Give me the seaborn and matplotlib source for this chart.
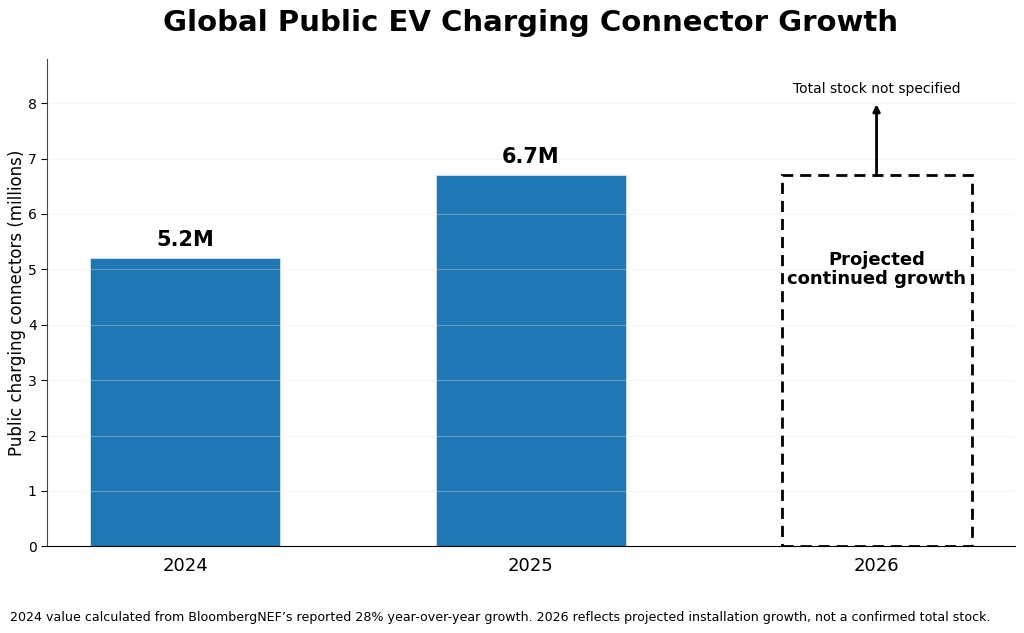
import pandas as pd
import matplotlib
matplotlib.use("Agg")
import matplotlib.pyplot as plt
import seaborn as sns
from matplotlib.patches import Rectangle

# Data
years = ["2024", "2025", "2026"]
connectors = [5.2, 6.7, 0.0]          # 2026 total stock not confirmed
bar_labels = ["5.2M", "6.7M", ""]
projected_height = 6.7                 # outline placeholder for 2026

df = pd.DataFrame({"year": years, "connectors": connectors})

sns.set_style("white")
plt.rcParams["font.family"] = ["DejaVu Sans"]
plt.rcParams["text.color"] = "black"
plt.rcParams["axes.labelcolor"] = "black"
plt.rcParams["xtick.color"] = "black"
plt.rcParams["ytick.color"] = "black"

fig, ax = plt.subplots(figsize=(10.24, 6.33), dpi=100)

sns.barplot(data=df, x="year", y="connectors", color="#1f77b4", saturation=1,
            width=0.55, edgecolor="#d0e4f4", linewidth=0.6, ax=ax, zorder=2)

# bar value labels
for i, (v, lab) in enumerate(zip(connectors, bar_labels)):
    if lab:
        ax.text(i, v + 0.15, lab, ha="center", va="bottom",
                fontsize=15, fontweight="bold")

# dashed projected box for 2026
ax.add_patch(Rectangle((2 - 0.275, 0), 0.55, projected_height, fill=False,
                       edgecolor="black", linestyle=(0, (4, 2.5)), linewidth=2,
                       zorder=3))
ax.text(2, 5.0, "Projected\ncontinued growth", ha="center", va="center",
        fontsize=13, fontweight="bold", linespacing=1.1)
ax.annotate("", xy=(2, 7.98), xytext=(2, projected_height),
            arrowprops=dict(arrowstyle="-|>", color="black", lw=2,
                            mutation_scale=10, shrinkA=0, shrinkB=0))
ax.text(2, 8.25, "Total stock not specified", ha="center", va="center",
        fontsize=10)

ax.set_xlim(-0.4, 2.4)
ax.set_ylim(0, 8.8)
ax.set_yticks(range(0, 9))
ax.yaxis.grid(True, color="#e6e6e6", alpha=0.35, linewidth=0.8, zorder=2.5)
ax.set_axisbelow(False)
ax.tick_params(axis="x", labelsize=13, length=4)
ax.tick_params(axis="y", labelsize=10, left=True, length=4)
ax.set_xlabel("")
ax.set_ylabel("Public charging connectors (millions)", fontsize=12, labelpad=1)
sns.despine(ax=ax)
ax.spines["left"].set_color("#444444")
ax.spines["bottom"].set_color("black")

ax.set_title("Global Public EV Charging Connector Growth", fontsize=21,
             fontweight="bold", pad=20)
fig.text(0.01, 0.025, "2024 value calculated from BloombergNEF\u2019s reported 28% "
         "year-over-year growth. 2026 reflects projected installation growth, "
         "not a confirmed total stock.", fontsize=9.1, ha="left", va="center")

fig.subplots_adjust(left=0.046, right=0.991, top=0.907, bottom=0.137)
fig.savefig("out.png", dpi=100)
